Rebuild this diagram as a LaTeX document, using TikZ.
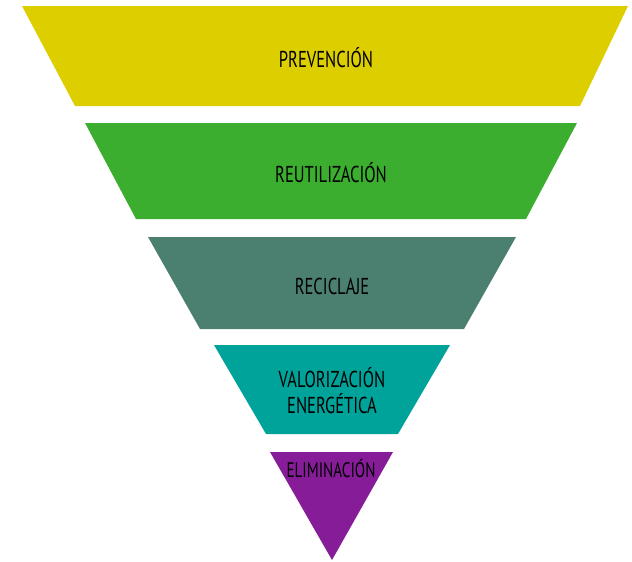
\documentclass[tikz,border=0pt]{standalone}
\usepackage{fontspec}
\setmainfont{PT Sans}[FakeStretch=0.72]
\definecolor{cprev}{RGB}{221,206,0}
\definecolor{creut}{RGB}{59,174,47}
\definecolor{crec}{RGB}{75,127,112}
\definecolor{cval}{RGB}{0,163,154}
\definecolor{celim}{RGB}{134,28,152}
\begin{document}
\begin{tikzpicture}[x=1pt,y=-1pt,
  lvl/.style={font=\fontsize{23}{26}\selectfont, text=black, align=center, inner sep=0pt}]
\useasboundingbox (0,0) rectangle (632,562);
\fill[cprev] (22,6) -- (628,6) -- (580,106) -- (75,106) -- cycle;
\fill[creut] (85,123) -- (577,123) -- (526,219) -- (136,219) -- cycle;
\fill[crec] (148,237) -- (516,237) -- (464,329) -- (200,329) -- cycle;
\fill[cval] (214,345) -- (450,345) -- (398,434) -- (266,434) -- cycle;
\fill[celim] (270,452) -- (393,452) -- (332,560) -- cycle;
\node[lvl] (prev) at (326,58) {PREVENCIÓN};
\node[lvl] (reut) at (331,173) {REUTILIZACIÓN};
\node[lvl] (rec) at (332,286) {RECICLAJE};
\node[lvl] (val) at (332,391) {VALORIZACIÓN\\ENERGÉTICA};
\node[lvl, font=\fontsize{21}{24}\selectfont] (elim) at (331,468) {ELIMINACIÓN};
\end{tikzpicture}
\end{document}
